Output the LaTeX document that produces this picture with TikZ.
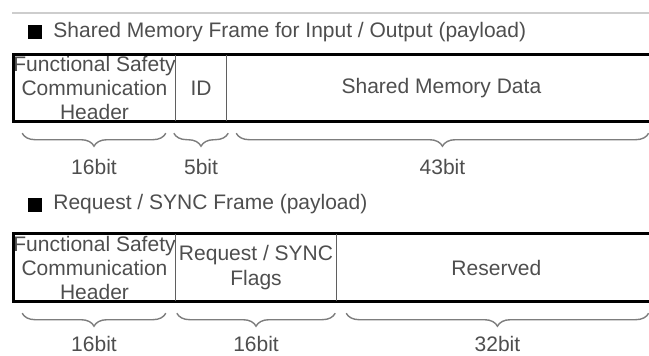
\documentclass[tikz,border=0pt]{standalone}
\usepackage{fontspec}
\setmainfont{Liberation Sans}
\usetikzlibrary{positioning, calc, decorations.pathreplacing}
\definecolor{inkgray}{RGB}{78,78,78}
\definecolor{bracegray}{RGB}{125,125,125}
\definecolor{rulegray}{RGB}{205,205,205}
\definecolor{sepgray}{RGB}{95,95,95}

\begin{document}
\begin{tikzpicture}[x=1pt, y=-1pt]
  \tikzstyle{frame} = [draw=black, line width=2.8pt]
  \tikzstyle{sep} = [draw=sepgray, line width=1.2pt]
  \tikzstyle{cell} = [rectangle, inner sep=0pt, align=center, text=inkgray, font=\fontsize{21}{24}\selectfont]
  \tikzstyle{bitbrace} = [decorate, decoration={brace, amplitude=13pt}, draw=bracegray, line width=1.4pt]
  \tikzstyle{bits} = [inner sep=0pt, text=inkgray, font=\fontsize{21}{24}\selectfont]
  \tikzstyle{title} = [inner sep=0pt, text=inkgray, font=\fontsize{21}{24}\selectfont]
  \tikzstyle{bullet} = [rectangle, fill=black, inner sep=0pt, minimum size=14pt]

  \useasboundingbox (0,0) rectangle (649,356);
  \clip (0,0) rectangle (649,356);

  \draw[rulegray, line width=1.5pt] (12,13) -- (660,13);

  % shared memory frame
  \node[bullet] (sq1) at (35,32) {};
  \node[title, right=11pt of sq1] (t1) {Shared Memory Frame for Input / Output (payload)};

  \begin{scope}
    \clip (14,55) rectangle (655,121);
    \node[cell, minimum width=161, minimum height=66] (fsh1) at (94.5,88) {Functional Safety\\Communication\\Header};
    \node[cell, minimum width=50, minimum height=66, right=0pt of fsh1] (id1) {ID};
    \node[cell, minimum width=430, minimum height=66, right=0pt of id1] (data1) {Shared Memory Data};
  \end{scope}

  \draw[frame] (fsh1.north west) rectangle (data1.south east);
  \draw[sep] (fsh1.north east) -- (fsh1.south east);
  \draw[sep] (id1.north east) -- (id1.south east);

  \draw[bitbrace] ($(fsh1.south east)+(-10,12)$) -- ($(fsh1.south west)+(9,12)$) node[bits, midway, below=25pt] (w16a) {16bit};
  \draw[bitbrace] ($(id1.south east)+(2,12)$) -- ($(id1.south west)+(-2,12)$) node[bits, midway, below=25pt] (w5) {5bit};
  \draw[bitbrace] ($(data1.south east)+(-8,12)$) -- ($(data1.south west)+(10,12)$) node[bits, midway, below=25pt] (w43) {43bit};

  % request / sync frame
  \node[bullet] (sq2) at (35,204.5) {};
  \node[title, right=11pt of sq2] (t2) {Request / SYNC Frame (payload)};

  \begin{scope}
    \clip (14,234) rectangle (655,301);
    \node[cell, minimum width=161, minimum height=67] (fsh2) at (94.5,267.5) {Functional Safety\\Communication\\Header};
    \node[cell, minimum width=160, minimum height=67, right=0pt of fsh2, font=\fontsize{21}{25}\selectfont] (flags2) {Request / SYNC\\Flags};
    \node[cell, minimum width=320, minimum height=67, right=0pt of flags2] (res2) {Reserved};
  \end{scope}

  \draw[frame] (fsh2.north west) rectangle (res2.south east);
  \draw[sep] (fsh2.north east) -- (fsh2.south east);
  \draw[sep] (flags2.north east) -- (flags2.south east);

  \draw[bitbrace] ($(fsh2.south east)+(-10,12)$) -- ($(fsh2.south west)+(9,12)$) node[bits, midway, below=22pt] (w16b) {16bit};
  \draw[bitbrace] ($(flags2.south east)+(-1,12)$) -- ($(flags2.south west)+(1,12)$) node[bits, midway, below=22pt] (w16c) {16bit};
  \draw[bitbrace] ($(res2.south east)+(-8,12)$) -- ($(res2.south west)+(10,12)$) node[bits, midway, below=22pt] (w32) {32bit};
\end{tikzpicture}
\end{document}
